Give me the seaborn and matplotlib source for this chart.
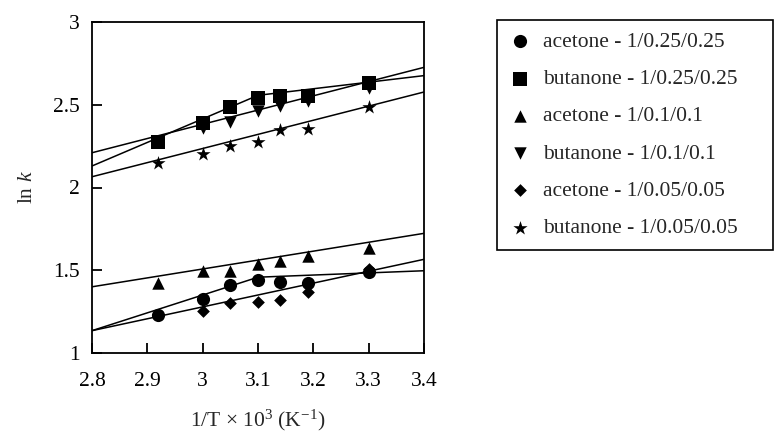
import numpy as np
import matplotlib
matplotlib.use("Agg")
import matplotlib.pyplot as plt
import seaborn as sns

# values
inv_temp = [2.92, 3.0, 3.05, 3.1, 3.14, 3.19, 3.3]
acetone_025 = [1.23, 1.325, 1.41, 1.44, 1.43, 1.425, 1.49]
butanone_025 = [2.275, 2.39, 2.485, 2.54, 2.55, 2.555, 2.63]
acetone_01 = [1.42, 1.495, 1.495, 1.54, 1.557, 1.588, 1.633]
butanone_01 = [np.nan, 2.357, 2.398, 2.46, 2.49, 2.524, 2.60]
acetone_005 = [np.nan, 1.256, 1.30, 1.306, 1.32, 1.367, 1.506]
butanone_005 = [2.15, 2.205, 2.25, 2.272, 2.347, 2.355, 2.487]

labels = ["acetone - 1/0.25/0.25", "butanone - 1/0.25/0.25",
          "acetone - 1/0.1/0.1", "butanone - 1/0.1/0.1",
          "acetone - 1/0.05/0.05", "butanone - 1/0.05/0.05"]

# fitted lines (end points as drawn)
fit_x2 = [2.8, 3.4]
fit_x3 = [2.8, 3.1, 3.4]
fit_acetone_025 = [1.135, 1.458, 1.497]
fit_butanone_025 = [2.13, 2.557, 2.676]
fit_acetone_01 = [1.40, 1.723]
fit_butanone_01 = [2.21, 2.726]
fit_acetone_005 = [1.135, 1.566]
fit_butanone_005 = [2.065, 2.577]

x_ticks = [2.8, 2.9, 3.0, 3.1, 3.2, 3.3, 3.4]
x_ticklabels = ["2.8", "2.9", "3", "3.1", "3.2", "3.3", "3.4"]
y_ticks = [1, 1.5, 2, 2.5, 3]
y_ticklabels = ["1", "1.5", "2", "2.5", "3"]

FS = 15.5

sns.set_theme(style="white")
plt.rcParams["font.family"] = ["Liberation Serif", "DejaVu Serif"]
plt.rcParams["mathtext.fontset"] = "custom"
plt.rcParams["mathtext.rm"] = "Liberation Serif"
plt.rcParams["mathtext.it"] = "Liberation Serif:italic"
plt.rcParams["font.size"] = FS
plt.rcParams["xtick.direction"] = "in"
plt.rcParams["ytick.direction"] = "in"
plt.rcParams["xtick.bottom"] = True
plt.rcParams["ytick.left"] = True
plt.rcParams["axes.axisbelow"] = False

fig = plt.figure(figsize=(7.74, 4.38), dpi=100)
ax = fig.add_axes([92 / 774, 1 - 353 / 438, 332 / 774, 331 / 438])

# fit lines
for xs, ys in [(fit_x3, fit_acetone_025), (fit_x3, fit_butanone_025),
               (fit_x2, fit_acetone_01), (fit_x2, fit_butanone_01),
               (fit_x2, fit_acetone_005), (fit_x2, fit_butanone_005)]:
    sns.lineplot(x=xs, y=ys, color="black", linewidth=1.1, sort=False,
                 estimator=None, ax=ax, zorder=2)

# data points
series = [acetone_025, butanone_025, acetone_01, butanone_01, acetone_005, butanone_005]
markers = ["o", "s", "^", "v", "D", "*"]
sizes = [90, 90, 80, 80, 42, 115]
for vals, m, s, lab in zip(series, markers, sizes, labels):
    sns.scatterplot(x=inv_temp, y=vals, marker=m, s=s, color="black",
                    edgecolor="black", linewidth=0, label=lab, ax=ax, zorder=3)

ax.set_xlim(2.8, 3.4)
ax.set_ylim(1, 3)
ax.set_xticks(x_ticks)
ax.set_xticklabels(x_ticklabels)
ax.set_yticks(y_ticks)
ax.set_yticklabels(y_ticklabels)
ax.tick_params(axis="both", which="major", direction="in", length=7, width=1.3,
               labelsize=FS, colors="black", bottom=True, left=True)
ax.tick_params(axis="x", pad=14)
ax.tick_params(axis="y", pad=9)
for sp in ax.spines.values():
    sp.set_color("black")
    sp.set_linewidth(1.3)

ax.set_xlabel("1/T × 10$^{3}$ (K$^{-1}$)", fontsize=FS, labelpad=12)
ax.set_ylabel("ln $k$", fontsize=FS, labelpad=11)

handles, lbls = ax.get_legend_handles_labels()
ax.legend_.remove()
leg = fig.legend(handles, lbls, loc="upper left",
                 bbox_to_anchor=(497 / 774, 0.0, 276 / 774, 1 - 20 / 438),
                 mode="expand", borderaxespad=0, frameon=True, fancybox=False,
                 edgecolor="black", framealpha=1, fontsize=FS,
                 handlelength=1.0, handletextpad=0.6, borderpad=0.55,
                 labelspacing=0.8, scatterpoints=1)
leg.get_frame().set_linewidth(1.2)

plt.savefig("out.png", dpi=100)
